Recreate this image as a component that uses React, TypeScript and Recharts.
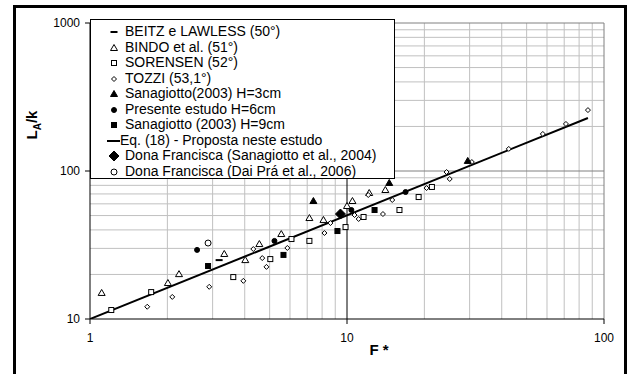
import React from "react"
import { ScatterChart, Scatter, XAxis, YAxis, ReferenceLine, Legend, Label } from "recharts"

// F* (x) and LA/k (y)
const beitzX = [3.18]
const beitzY = [25.0]
const bindoX = [1.11, 2.01, 2.22, 3.33, 4.02, 4.56, 5.55, 7.14, 8.1, 10.0, 10.5, 12.2, 14.1]
const bindoY = [15.0, 17.5, 20.1, 27.5, 25.0, 32.1, 37.5, 48.1, 46.7, 58.0, 62.7, 71.0, 74.4]
const sorensenX = [1.21, 1.73, 3.61, 5.03, 6.08, 7.14, 9.87, 11.6, 16.0, 19.0, 21.4]
const sorensenY = [11.5, 15.2, 19.2, 25.4, 34.7, 33.7, 41.8, 48.9, 54.5, 66.7, 78.0]
const tozziX = [1.67, 2.09, 2.91, 3.95, 4.32, 4.68, 4.86, 5.86, 8.17, 8.62, 10.7, 11.1, 12.1, 13.8, 15.0, 20.4, 24.4, 25.1, 30.6, 42.6, 57.8, 71.1, 86.6]
const tozziY = [12.1, 14.1, 16.5, 18.1, 29.7, 25.8, 22.5, 30.2, 38.1, 44.5, 50.4, 47.4, 68.8, 51.2, 63.7, 76.7, 98.4, 88.3, 115, 141, 178, 208, 258]
const sana3X = [7.4, 14.6, 29.5]
const sana3Y = [62.7, 83.0, 117]
const presenteX = [2.61, 5.22, 10.4, 16.9]
const presenteY = [29.3, 33.7, 54.5, 72.1]
const sana9X = [2.88, 5.66, 9.18, 12.8]
const sana9Y = [22.8, 27.1, 39.3, 54.5]
const eqX = [1, 86.6]
const eqY = [10, 228]
const donaSanaX = [9.43]
const donaSanaY = [51.2]
const donaDaiX = [2.88]
const donaDaiY = [32.6]

const xTicks = [1, 10, 100]
const yTicks = [10, 100, 1000]
const xMinor = [2, 3, 4, 5, 6, 7, 8, 9, 20, 30, 40, 50, 60, 70, 80, 90]
const yMinor = [20, 30, 40, 50, 60, 70, 80, 90, 200, 300, 400, 500, 600, 700, 800, 900]

const legendNames = [
  "BEITZ e LAWLESS (50°)",
  "BINDO et al. (51°)",
  "SORENSEN (52°)",
  "TOZZI (53,1°)",
  "Sanagiotto(2003) H=3cm",
  "Presente estudo H=6cm",
  "Sanagiotto (2003)  H=9cm",
  "Eq. (18) - Proposta neste estudo",
  "Dona Francisca (Sanagiotto et al., 2004)",
  "Dona Francisca (Dai Prá et al., 2006)",
]

const zip = (xs: number[], ys: number[]) => xs.map((x, i) => ({ x, y: ys[i] }))

const font = "'Liberation Sans', Arial, sans-serif"

const Dash = ({ cx, cy }: any) => <rect x={cx - 3.5} y={cy - 1} width={7} height={2} fill="#000" />
const Tri = ({ cx, cy, fill }: any) => (
  <polygon
    points={`${cx},${cy - 3.5} ${cx - 3.5},${cy + 2.5} ${cx + 3.5},${cy + 2.5}`}
    fill={fill}
    stroke="#000"
    strokeWidth={1}
  />
)
const Sq = ({ cx, cy, fill, s }: any) => (
  <rect x={cx - s / 2} y={cy - s / 2} width={s} height={s} fill={fill} stroke="#000" strokeWidth={1} />
)
const Dia = ({ cx, cy, fill, r }: any) => (
  <polygon points={`${cx},${cy - r} ${cx + r},${cy} ${cx},${cy + r} ${cx - r},${cy}`} fill={fill} stroke="#000" strokeWidth={1} />
)
const Dot = ({ cx, cy, fill, r }: any) => <circle cx={cx} cy={cy} r={r} fill={fill} stroke="#000" strokeWidth={1} />

const markers = [
  (p: any) => <Dash {...p} />,
  (p: any) => <Tri {...p} fill="#fff" />,
  (p: any) => <Sq {...p} fill="#fff" s={5} />,
  (p: any) => <Dia {...p} fill="#fff" r={2.5} />,
  (p: any) => <Tri {...p} fill="#000" />,
  (p: any) => <Dot {...p} fill="#000" r={2.5} />,
  (p: any) => <Sq {...p} fill="#000" s={5} />,
  (p: any) => <line x1={p.cx - 7} x2={p.cx + 6} y1={p.cy} y2={p.cy} stroke="#000" strokeWidth={2} />,
  (p: any) => <Dia {...p} fill="#000" r={5} />,
  (p: any) => <Dot {...p} fill="#fff" r={3} />,
]

function LegendBox() {
  return (
    <div
      style={{
        position: "relative",
        width: 305,
        height: 160,
        boxSizing: "border-box",
        border: "1px solid #000",
        background: "#fff",
        fontFamily: font,
        fontSize: 14,
        color: "#000",
      }}
    >
      {legendNames.map((name, i) => (
        <div key={name} style={{ position: "absolute", top: 4 + i * 15.56, left: 0, height: 15.56, width: 300 }}>
          <svg width={20} height={16} style={{ position: "absolute", left: 13, top: 0 }}>
            {markers[i]({ cx: 10, cy: 8 })}
          </svg>
          <span
            style={{
              position: "absolute",
              left: i === 7 ? 29 : 34,
              top: 0,
              lineHeight: "15.56px",
              whiteSpace: "nowrap",
            }}
          >
            {name}
          </span>
        </div>
      ))}
    </div>
  )
}

const YTitle = () => (
  <text transform="translate(37,125) rotate(-90)" textAnchor="middle" fontFamily={font} fontWeight="bold" fontSize={15} fill="#000">
    L<tspan fontSize={10} dy={4}>A</tspan>
    <tspan dy={-4}>/k</tspan>
  </text>
)

const XTitle = () => (
  <text x={379} y={355} textAnchor="middle" fontFamily={font} fontWeight="bold" fontSize={15} fill="#000">
    F *
  </text>
)

const series = [
  zip(beitzX, beitzY),
  zip(bindoX, bindoY),
  zip(sorensenX, sorensenY),
  zip(tozziX, tozziY),
  zip(sana3X, sana3Y),
  zip(presenteX, presenteY),
  zip(sana9X, sana9Y),
]

export default function App() {
  return (
    <div style={{ position: "absolute", left: 0, top: 0, width: 632, height: 374, background: "#fff", overflow: "hidden" }}>
      <div
        style={{
          position: "absolute",
          left: 13,
          top: 5,
          width: 614,
          height: 380,
          boxSizing: "border-box",
          border: "3px solid #000",
        }}
      />
      <div style={{ position: "absolute", left: 0, top: 0 }}>
        <ScatterChart width={632} height={374} margin={{ top: 23, right: 28, bottom: 25, left: 0 }}>
          <XAxis
            dataKey="x"
            type="number"
            scale="log"
            domain={[1, 100]}
            ticks={xTicks}
            allowDataOverflow
            height={30}
            tickSize={5}
            tickMargin={9}
            tick={{ fill: "#000", fontSize: 12, fontFamily: font }}
            stroke="#000"
            label={<XTitle />}
          />
          <YAxis
            dataKey="y"
            type="number"
            scale="log"
            domain={[10, 1000]}
            ticks={yTicks}
            allowDataOverflow
            width={90}
            tickSize={5}
            tickMargin={5}
            tick={{ fill: "#000", fontSize: 12, fontFamily: font }}
            stroke="#000"
            label={<YTitle />}
          />
          {xMinor.map((v) => (
            <ReferenceLine key={"x" + v} x={v} stroke="#c0c0c0" strokeWidth={1} />
          ))}
          {yMinor.map((v) => (
            <ReferenceLine key={"y" + v} y={v} stroke="#c0c0c0" strokeWidth={1} />
          ))}
          <ReferenceLine y={100} stroke="#808080" strokeWidth={1} />
          <ReferenceLine y={1000} stroke="#808080" strokeWidth={1} />
          <ReferenceLine x={100} stroke="#808080" strokeWidth={1} />
          <ReferenceLine x={10} stroke="#000" strokeWidth={1} />
          <Scatter
            data={zip(eqX, eqY)}
            line={{ stroke: "#000", strokeWidth: 2 }}
            shape={() => <g />}
            isAnimationActive={false}
          />
          {series.map((d, i) => (
            <Scatter key={i} data={d} shape={markers[i]} isAnimationActive={false} />
          ))}
          <Scatter data={zip(donaSanaX, donaSanaY)} shape={markers[8]} isAnimationActive={false} />
          <Scatter data={zip(donaDaiX, donaDaiY)} shape={markers[9]} isAnimationActive={false} />
          <Legend
            layout="vertical"
            align="center"
            verticalAlign="middle"
            wrapperStyle={{ left: 90, top: 19, width: 305, height: 160 }}
            content={() => <LegendBox />}
          />
        </ScatterChart>
      </div>
    </div>
  )
}
